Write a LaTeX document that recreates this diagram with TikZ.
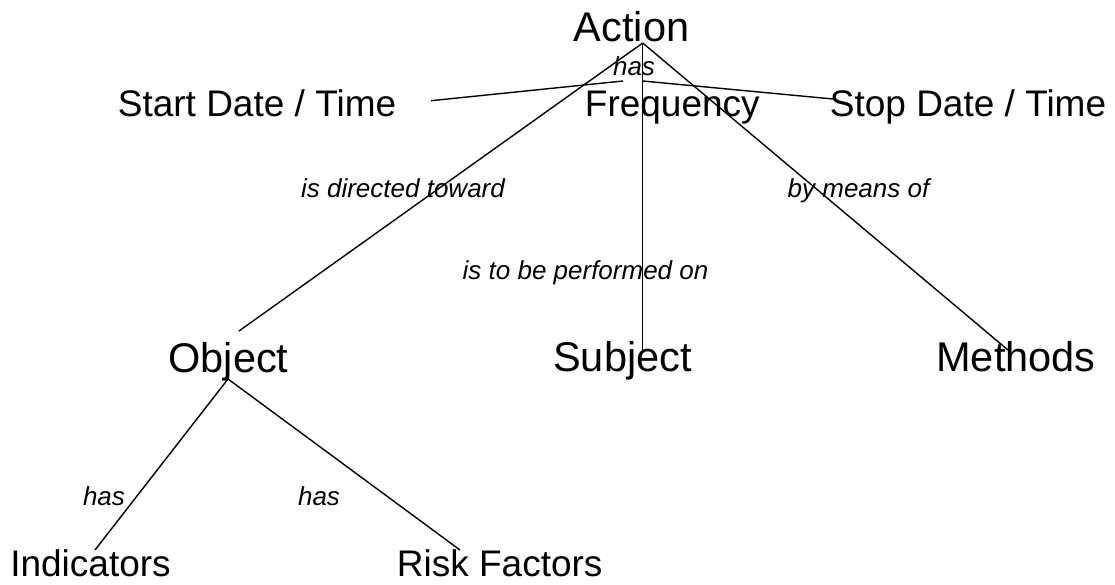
\documentclass[tikz,border=0pt]{standalone}
\usepackage{fontspec}
\setmainfont{Liberation Sans}
\begin{document}
\begin{tikzpicture}[x=1pt,y=-1pt,
  big/.style={inner sep=0pt,anchor=base,font=\fontsize{41.5}{45}\selectfont},
  mid/.style={inner sep=0pt,anchor=base,font=\fontsize{37}{40}\selectfont},
  lbl/.style={inner sep=0pt,anchor=base,font=\fontsize{26}{28}\selectfont\itshape},
  link/.style={draw=black,line width=1.4pt}]
\useasboundingbox (0,0) rectangle (1115,584);
% nodes
\node[big] (action) at (631.5,41.7) {Action};
\node[mid] (start) at (257,116.7) {Start Date / Time};
\node[mid] (freq) at (672.3,116.7) {Frequency};
\node[mid] (stop) at (968,116.7) {Stop Date / Time};
\node[lbl] (hasTop) at (634,75) {has};
\node[lbl] (dirLbl) at (403,197) {is directed toward};
\node[lbl] (meansLbl) at (858.5,197) {by means of};
\node[lbl] (perfLbl) at (585.5,279) {is to be performed on};
\node[big] (object) at (228.5,372) {Object};
\node[big] (subject) at (622.5,371) {Subject};
\node[big] (methods) at (1016,371.7) {Methods};
\node[lbl] (hasL) at (104,505) {has};
\node[lbl] (hasR) at (319,505) {has};
\node[mid] (ind) at (90.5,576.7) {Indicators};
\node[mid] (risk) at (499.7,576.7) {Risk Factors};
% connector ends
\coordinate (actFoot) at (642.7,43);
\coordinate (objTop) at (239,331);
\coordinate (subTop) at (642.7,352);
\coordinate (metTop) at (1008,350);
\coordinate (startEnd) at (431,100.7);
\coordinate (hubL) at (623,81);
\coordinate (hubR) at (642.7,81);
\coordinate (stopEnd) at (833,99);
\coordinate (objFoot) at (228,379);
\coordinate (indTop) at (95,550);
\coordinate (riskTop) at (460,550);
% connectors
\draw[link] (actFoot) -- (objTop);
\draw[link] (actFoot) -- (subTop);
\draw[link] (actFoot) -- (metTop);
\draw[link] (startEnd) -- (hubL);
\draw[link] (hubR) -- (stopEnd);
\draw[link] (objFoot) -- (indTop);
\draw[link] (objFoot) -- (riskTop);
\end{tikzpicture}
\end{document}
